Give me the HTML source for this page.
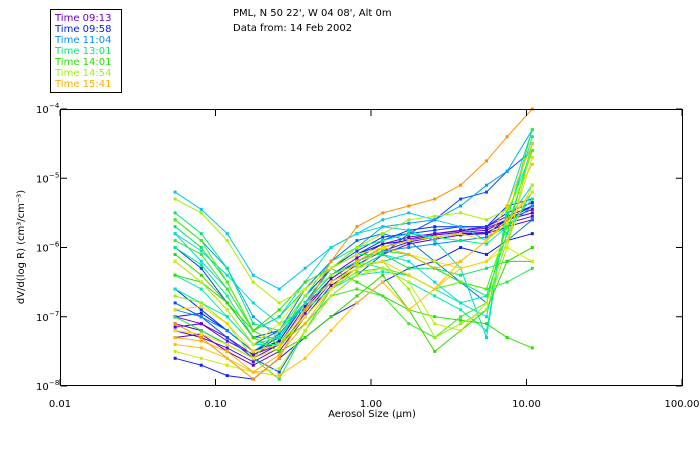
<!DOCTYPE html>
<html><head><meta charset="utf-8"><style>
body{margin:0;background:#fff;}
svg{display:block;font-family:"DejaVu Sans","Liberation Sans",sans-serif;}
</style></head><body>
<svg id="c" width="700" height="450">
<rect width="700" height="450" fill="#fff"/>
<g>
<rect x="50.5" y="9.5" width="71" height="83" fill="none" stroke="#000"/>
<g id="leg" font-size="10"></g>
</g>
<text x="233" y="16" font-size="10">PML, N 50 22', W 04 08', Alt 0m</text>
<text x="233" y="31" font-size="10">Data from: 14 Feb 2002</text>
<g id="plot"></g>
<rect x="60.5" y="109.5" width="622" height="276" fill="none" stroke="#000"/>
<g id="axes" font-size="10"></g>
<text x="372" y="417" font-size="10" text-anchor="middle">Aerosol Size (μm)</text>
<text transform="translate(24,247) rotate(-90)" font-size="10" text-anchor="middle">dV/d(log R) (cm³/cm⁻³)</text>
</svg>
<script>
const sizes=[0.055,0.081,0.119,0.175,0.257,0.377,0.553,0.812,1.19,1.75,2.57,3.77,5.53,7.5,10.9];
const legendLabels=["Time 09:13","Time 09:58","Time 11:04","Time 13:01","Time 14:01","Time 14:54","Time 15:41"];
const groupColors=["#6a00c8","#0018ff","#0090ff","#00e878","#28e000","#a8f000","#ffb000"];
const lineColors=[
["#6a00c8","#5000d0","#4a10e0","#6000c0","#5808d8"],
["#1020f0","#0030ff","#0040f0","#0020e0","#0050ff"],
["#00c8f0","#00a0ff","#0070f0","#00d8e0","#0088ff","#00e0d0"],
["#00e878","#00f0a0","#10e060","#00e8b0","#00f088"],
["#28e000","#40e820","#30d800","#20e840","#50f000"],
["#a8f000","#c0f000","#90f010","#d8f000"],
["#ffb000","#ffd000","#ff9000","#ffc000","#f0e000"]];
const s0=[[-7.0,-7.1,-7.3,-7.55,-7.35,-6.8,-6.4,-6.15,-5.95,-5.85,-5.8,-5.75,-5.7,-5.55,-5.4],
[-7.1,-7.2,-7.4,-7.6,-7.4,-6.9,-6.45,-6.2,-6.0,-5.9,-5.82,-5.78,-5.75,-5.6,-5.5],
[-7.2,-7.3,-7.45,-7.65,-7.45,-6.95,-6.5,-6.25,-6.05,-5.92,-5.85,-5.8,-5.78,-5.65,-5.55],
[-7.3,-7.25,-7.5,-7.7,-7.5,-7.0,-6.55,-6.3,-6.1,-5.95,-5.88,-5.82,-5.8,-5.7,-5.6],
[-7.15,-7.1,-7.35,-7.55,-7.4,-6.85,-6.45,-6.2,-6.0,-5.88,-5.8,-5.76,-5.72,-5.6,-5.45]];
const s1=[[-7.6,-7.7,-7.85,-7.9,-7.6,-7.3,-7.0,-6.8,-6.5,-6.3,-6.2,-6.0,-6.1,-5.9,-5.8],
[-6.6,-6.9,-7.2,-7.5,-7.3,-6.8,-6.3,-6.1,-5.9,-5.75,-5.7,-5.7,-5.7,-5.5,-5.35],
[-6.0,-6.3,-6.8,-7.3,-7.2,-6.7,-6.3,-6.05,-5.85,-5.8,-5.75,-5.7,-5.7,-5.4,-5.3],
[-7.0,-6.95,-7.2,-7.5,-7.35,-6.8,-6.3,-6.1,-5.95,-5.9,-5.85,-5.8,-5.8,-5.6,-5.4],
[-6.8,-7.0,-7.3,-7.6,-7.8,-7.2,-6.7,-6.4,-6.1,-5.8,-5.6,-5.3,-5.2,-4.9,-4.6]];
const s2=[[-5.2,-5.45,-5.8,-6.4,-6.6,-6.3,-6.0,-5.8,-5.6,-5.5,-5.6,-5.7,-5.9,-5.6,-5.1],
[-5.6,-5.9,-6.3,-7.0,-7.3,-6.8,-6.3,-6.0,-5.7,-5.65,-5.6,-5.4,-5.1,-4.9,-4.3],
[-6.2,-6.5,-6.9,-7.4,-7.2,-6.6,-6.2,-5.9,-5.8,-5.9,-6.2,-6.5,-6.8,-5.9,-5.6],
[-5.8,-6.2,-6.6,-7.2,-7.0,-6.5,-6.0,-5.8,-5.7,-5.75,-5.9,-6.3,-7.3,-5.4,-4.3],
[-6.9,-7.0,-7.2,-7.5,-7.25,-6.8,-6.4,-6.2,-6.05,-6.0,-5.95,-5.9,-5.85,-5.7,-5.4],
[-5.8,-6.05,-6.4,-6.8,-7.1,-6.9,-6.6,-6.3,-6.1,-6.2,-6.5,-6.8,-7.0,-5.6,-4.4]];
const s3=[[-5.5,-5.8,-6.3,-7.1,-7.2,-6.8,-6.5,-6.3,-6.2,-6.1,-6.3,-6.5,-6.7,-5.8,-4.5],
[-6.4,-6.6,-7.0,-7.4,-7.3,-6.8,-6.4,-6.2,-6.3,-6.5,-6.7,-6.9,-7.2,-5.5,-4.6],
[-5.7,-6.0,-6.5,-7.2,-7.0,-6.6,-6.3,-6.1,-6.1,-6.3,-6.3,-6.4,-6.3,-6.2,-6.2],
[-6.6,-6.8,-7.0,-7.4,-7.4,-6.9,-6.6,-6.4,-6.35,-6.4,-6.6,-6.8,-6.7,-5.8,-5.2],
[-6.0,-6.25,-6.7,-7.3,-7.3,-6.7,-6.2,-6.0,-5.9,-5.8,-5.85,-5.9,-5.95,-5.7,-5.3]];
const s4=[[-6.4,-6.5,-6.8,-7.2,-6.9,-6.5,-6.3,-6.5,-6.7,-6.9,-7.0,-7.05,-7.1,-7.3,-7.45],
[-5.9,-6.1,-6.6,-7.2,-7.4,-7.1,-6.7,-6.6,-6.7,-7.1,-7.3,-7.0,-6.8,-5.6,-4.3],
[-6.1,-6.4,-6.8,-7.3,-7.5,-7.3,-7.0,-6.7,-6.4,-6.9,-7.5,-7.2,-6.9,-6.2,-6.0],
[-7.0,-7.2,-7.4,-7.6,-7.9,-7.2,-6.6,-6.2,-6.05,-6.1,-6.3,-6.5,-6.6,-6.5,-6.3],
[-5.6,-5.9,-6.5,-7.2,-7.4,-7.0,-6.6,-6.35,-6.3,-6.4,-6.6,-6.5,-6.6,-5.7,-4.6]];
const s5=[[-5.3,-5.5,-5.9,-6.5,-6.8,-6.6,-6.3,-6.0,-5.8,-5.6,-5.55,-5.5,-5.6,-5.45,-4.8],
[-7.5,-7.6,-7.7,-7.8,-7.75,-7.2,-6.7,-6.4,-6.3,-6.5,-7.1,-7.2,-6.8,-5.9,-5.1],
[-6.7,-6.8,-7.1,-7.6,-7.2,-6.7,-6.4,-6.25,-6.2,-6.6,-7.3,-7.1,-6.9,-6.0,-4.5],
[-6.2,-6.5,-6.9,-7.4,-7.1,-6.6,-6.3,-6.1,-6.0,-6.1,-6.2,-6.3,-6.2,-6.0,-6.2]];
const s6=[[-7.3,-7.35,-7.5,-7.8,-7.55,-7.1,-6.6,-6.2,-6.0,-6.1,-6.3,-6.2,-5.9,-5.6,-5.2],
[-6.9,-6.85,-7.1,-7.5,-7.4,-6.9,-6.5,-6.3,-6.2,-6.4,-6.6,-6.3,-6.2,-5.9,-4.7],
[-7.1,-7.3,-7.6,-7.9,-7.6,-6.9,-6.2,-5.7,-5.5,-5.4,-5.3,-5.1,-4.75,-4.4,-4.0],
[-7.4,-7.45,-7.6,-7.8,-7.85,-7.6,-7.2,-6.8,-6.5,-6.9,-6.6,-6.2,-5.9,-5.4,-4.5],
[-7.2,-7.25,-7.4,-7.6,-7.45,-7.0,-6.6,-6.3,-6.0,-5.9,-5.85,-5.8,-5.9,-5.65,-5.2]];
const xTicks=[0.01,0.1,1,10,100];
const xTickLabels=["0.01","0.10","1.00","10.00","100.00"];
const yTicks=[-4,-5,-6,-7,-8];

const NS="http://www.w3.org/2000/svg";
const X0=60,XD=155.5,Y0=109,YD=69.25;
function xs(v){return X0+(Math.log10(v)+2)*XD;}
function ys(l){return Y0+(-4-l)*YD;}
function mk(t,a,p){const e=document.createElementNS(NS,t);for(const k in a)e.setAttribute(k,a[k]);p.appendChild(e);return e;}
const groups=[s0,s1,s2,s3,s4,s5,s6];
const plot=document.getElementById('plot');
groups.forEach((g,gi)=>{g.forEach((vals,li)=>{
 const col=lineColors[gi][li%lineColors[gi].length];
 const gg=mk('g',{},plot);
 
 
 const pts=vals.map((v,i)=>xs(sizes[i]).toFixed(1)+','+ys(Math.max(-8,Math.min(-4,v))).toFixed(1)).join(' ');
 mk('polyline',{points:pts,fill:'none',stroke:col,'stroke-width':1},gg);
 vals.forEach((v,i)=>{if(v<-8||v>-4)return;
  const r=mk('rect',{x:xs(sizes[i])-1.5,y:ys(v)-1.5,width:3,height:3,fill:col},gg);
  
  
 });
});});
const leg=document.getElementById('leg');
legendLabels.forEach((t,i)=>{
 const e=mk('text',{x:55,y:21+i*11,fill:groupColors[i]},leg);
 e.textContent=t;
 
 
});
const ax=document.getElementById('axes');
xTicks.forEach((v,i)=>{const x=xs(v);
 mk('line',{x1:x,y1:385,x2:x,y2:379,stroke:'#000'},ax);
 mk('line',{x1:x,y1:110,x2:x,y2:116,stroke:'#000'},ax);
 const t=mk('text',{x:x,y:407,'text-anchor':'middle'},ax);
 t.textContent=xTickLabels[i];
 
 
});
yTicks.forEach(v=>{const y=ys(v);
 mk('line',{x1:61,y1:y,x2:67,y2:y,stroke:'#000'},ax);
 mk('line',{x1:682,y1:y,x2:676,y2:y,stroke:'#000'},ax);
 const t=mk('text',{x:36,y:y+4},ax);
 t.textContent='10';
 
 
 const s=mk('text',{x:49,y:y-1,'font-size':7},ax);
 s.textContent=String(v).replace('-','−');
});
</script>
</body></html>
